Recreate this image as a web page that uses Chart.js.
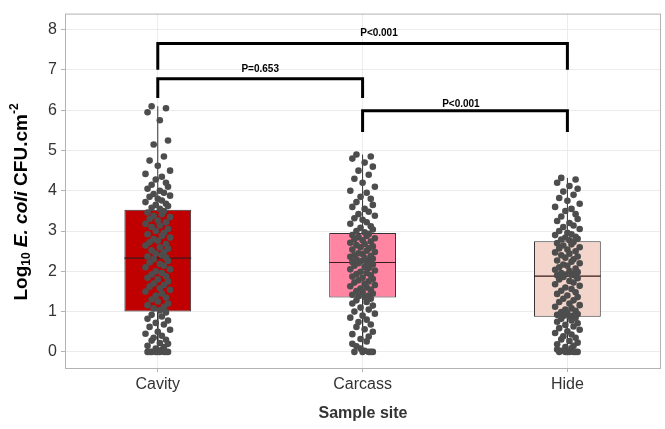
<!DOCTYPE html>
<html>
<head>
<meta charset="utf-8">
<script src="https://cdn.jsdelivr.net/npm/chart.js@4.4.0/dist/chart.umd.min.js"></script>
<style>
    html, body { margin: 0; padding: 0; background: #fff; }
    #wrap { width: 665px; height: 429px; position: relative; }
</style>
</head>
<body>
<div id="wrap"><canvas id="myChart"></canvas></div>
<script>
var categories = ['Cavity', 'Carcass', 'Hide'];
var yTicks = [0, 1, 2, 3, 4, 5, 6, 7, 8];

// box stats (log10 CFU/cm2)
var q1 = [1.0, 1.35, 0.87];
var medians = [2.33, 2.22, 1.88];
var q3 = [3.53, 2.95, 2.75];
var whiskerLow = [0, 0, 0];
var whiskerHigh = [6.1, 4.9, 4.32];

// individual samples
var cavityValues = [
    6.1, 6.05, 5.95, 5.75, 5.25, 5.15, 4.85, 4.75, 4.62, 4.5, 4.42, 4.35, 4.28, 4.2, 4.15, 4.1, 4.05, 4.0, 3.95, 3.92, 3.88, 3.85, 3.8, 3.76, 3.72, 3.68, 3.65, 3.62, 3.58, 3.55,
    3.5, 3.46, 3.42, 3.38, 3.35, 3.3, 3.26, 3.22, 3.18, 3.14, 3.1, 3.05, 3.0, 2.96, 2.92, 2.88, 2.84, 2.8, 2.76, 2.72, 2.68, 2.64, 2.6, 2.56, 2.52, 2.48, 2.44, 2.4, 2.37, 2.34,
    2.3, 2.26, 2.22, 2.18, 2.14, 2.1, 2.05, 2.0, 1.96, 1.92, 1.88, 1.84, 1.8, 1.75, 1.7, 1.66, 1.62, 1.58, 1.54, 1.5, 1.45, 1.4, 1.35, 1.3, 1.25, 1.2, 1.16, 1.12, 1.08, 1.03,
    0.98, 0.92, 0.88, 0.82, 0.78, 0.72, 0.68, 0.62, 0.55, 0.5, 0.45, 0.4, 0.35, 0.3, 0.28, 0.22, 0.2, 0.15, 0.12, 0.08, 0.05, 0, 0, 0, 0, 0, 0, 0, 0, 0
];
var carcassValues = [
    4.9, 4.85, 4.8, 4.7, 4.6, 4.5, 4.4, 4.3, 4.2, 4.1, 4.0, 3.95, 3.85, 3.8, 3.72, 3.65, 3.6, 3.55, 3.48, 3.42, 3.38, 3.32, 3.28, 3.22, 3.18, 3.12, 3.08, 3.04, 3.0, 2.97,
    2.93, 2.9, 2.88, 2.85, 2.82, 2.8, 2.77, 2.74, 2.71, 2.68, 2.65, 2.62, 2.6, 2.57, 2.54, 2.51, 2.48, 2.45, 2.43, 2.4, 2.38, 2.36, 2.33, 2.31, 2.29, 2.27, 2.25, 2.24, 2.23, 2.22,
    2.2, 2.17, 2.14, 2.11, 2.08, 2.05, 2.02, 1.99, 1.96, 1.93, 1.9, 1.87, 1.84, 1.81, 1.78, 1.75, 1.72, 1.69, 1.66, 1.63, 1.6, 1.57, 1.54, 1.51, 1.48, 1.45, 1.42, 1.4, 1.38, 1.36,
    1.32, 1.28, 1.24, 1.2, 1.15, 1.1, 1.05, 1.0, 0.95, 0.9, 0.85, 0.8, 0.74, 0.68, 0.62, 0.56, 0.5, 0.44, 0.38, 0.32, 0.26, 0.2, 0.14, 0.08, 0.03, 0, 0, 0, 0, 0
];
var hideValues = [
    4.32, 4.28, 4.2, 4.12, 4.05, 3.98, 3.9, 3.82, 3.75, 3.68, 3.6, 3.55, 3.5, 3.42, 3.36, 3.3, 3.25, 3.2, 3.14, 3.1, 3.05, 3.0, 2.96, 2.92, 2.9, 2.86, 2.84, 2.81, 2.79, 2.77,
    2.73, 2.7, 2.67, 2.64, 2.6, 2.57, 2.54, 2.5, 2.47, 2.44, 2.4, 2.37, 2.34, 2.3, 2.27, 2.24, 2.2, 2.17, 2.14, 2.1, 2.07, 2.04, 2.01, 1.98, 1.96, 1.94, 1.92, 1.91, 1.9, 1.89,
    1.86, 1.83, 1.8, 1.76, 1.72, 1.68, 1.64, 1.6, 1.56, 1.52, 1.48, 1.44, 1.4, 1.36, 1.32, 1.28, 1.24, 1.2, 1.16, 1.12, 1.08, 1.05, 1.02, 0.99, 0.96, 0.94, 0.92, 0.9, 0.89, 0.88,
    0.85, 0.82, 0.78, 0.75, 0.71, 0.67, 0.63, 0.59, 0.55, 0.51, 0.47, 0.43, 0.39, 0.35, 0.31, 0.27, 0.23, 0.19, 0.15, 0.12, 0.09, 0.06, 0.03, 0, 0, 0, 0, 0, 0, 0
];
// horizontal jitter (category units), same order as the values above
var jitter = [
    -0.03, 0.04, -0.05, 0.01, 0.05, -0.02, 0.03, -0.04, 0.00, 0.06, -0.06, 0.02, -0.01, 0.04, -0.03, 0.05, -0.05, 0.01, 0.03, -0.02, 0.06, -0.04, 0.00, 0.02, -0.06, 0.04, -0.01, 0.05, -0.03, 0.01,
    0.03, -0.05, 0.02, -0.02, 0.06, -0.04, 0.00, 0.04, -0.06, 0.01, -0.03, 0.05, -0.01, 0.03, -0.05, 0.02, 0.06, -0.02, 0.00, -0.04, 0.04, -0.06, 0.01, 0.05, -0.03, 0.03, -0.01, 0.02, -0.05, 0.04,
    -0.02, 0.05, -0.04, 0.01, 0.03, -0.06, 0.06, -0.01, 0.02, -0.03, 0.04, -0.05, 0.00, 0.05, -0.02, 0.03, -0.04, 0.01, 0.06, -0.06, 0.02, -0.01, 0.04, -0.03, 0.00, 0.05, -0.05, 0.03, -0.02, 0.01,
    0.04, -0.03, 0.02, -0.05, 0.05, -0.01, 0.03, -0.04, 0.06, 0.00, -0.06, 0.02, -0.02, 0.04, -0.03, 0.01, 0.05, -0.05, 0.03, -0.01, 0.02, -0.05, -0.03, -0.01, 0.01, 0.03, 0.05, -0.04, 0.00, 0.04
];

// significance brackets
var bracketFrom = [1, 1, 2];
var bracketTo = [3, 2, 3];
var bracketTop = [7.66, 6.78, 5.99];
var bracketFoot = [7.04, 6.34, 5.5];
var bracketText = ['P<0.001', 'P=0.653', 'P<0.001'];
var bracketTextX = [2.08, 1.5, 2.48];
var bracketTextY = [7.9, 7.02, 6.14];

var boxColors = ['#C00000', '#FF85A2', '#F3D5CB'];
var boxWidth = 0.326;

(function () {
    var ctx = document.getElementById('myChart');
    var groups = [cavityValues, carcassValues, hideValues];

    var points = [];
    groups.forEach(function (vals, g) {
        vals.forEach(function (v, i) {
            points.push({ x: g + 1 + jitter[i], y: v });
        });
    });

    var boxes = categories.map(function (c, i) {
        return { x: i + 1, y: [q1[i], q3[i]] };
    });

    var whiskers = [];
    var medianLines = [];
    categories.forEach(function (c, i) {
        whiskers.push({ x: i + 1, y: q3[i] }, { x: i + 1, y: whiskerHigh[i] }, { x: i + 1, y: null });
        whiskers.push({ x: i + 1, y: q1[i] }, { x: i + 1, y: whiskerLow[i] }, { x: i + 1, y: null });
        medianLines.push({ x: i + 1 - boxWidth / 2, y: medians[i] }, { x: i + 1 + boxWidth / 2, y: medians[i] }, { x: i + 1, y: null });
    });

    var brackets = [];
    bracketFrom.forEach(function (f, i) {
        brackets.push({ x: f, y: bracketFoot[i] }, { x: f, y: bracketTop[i] },
            { x: bracketTo[i], y: bracketTop[i] }, { x: bracketTo[i], y: bracketFoot[i] }, { x: f, y: null });
    });

    var labelPlugin = {
        id: 'labels',
        afterDraw: function (chart) {
            var c = chart.ctx;
            var area = chart.chartArea;
            var xs = chart.scales.x, ys = chart.scales.y;
            c.save();
            // panel frame
            c.strokeStyle = '#b3b3b3';
            c.lineWidth = 1;
            c.strokeRect(area.left + 0.5, area.top + 0.5, area.right - area.left - 1, area.bottom - area.top);

            // p-value text
            c.fillStyle = '#000';
            c.font = 'bold 10px "Liberation Sans", Arial, sans-serif';
            c.textAlign = 'center';
            c.textBaseline = 'middle';
            bracketText.forEach(function (t, i) {
                c.fillText(t, xs.getPixelForValue(bracketTextX[i]), ys.getPixelForValue(bracketTextY[i]));
            });

            // x title
            c.fillStyle = '#333';
            c.font = 'bold 16px "Liberation Sans", Arial, sans-serif';
            c.fillText('Sample site', (area.left + area.right) / 2, 414);

            // y title, mixed styles
            var parts = [
                { t: 'Log', f: 'bold 19px', dy: 0 },
                { t: '10', f: 'bold 12px', dy: 5 },
                { t: ' ', f: 'bold 19px', dy: 0 },
                { t: 'E. coli', f: 'italic bold 19px', dy: 0 },
                { t: ' CFU.cm', f: 'bold 19px', dy: 0 },
                { t: '-2', f: 'bold 12px', dy: -7 }
            ];
            var fam = ' "Liberation Sans", Arial, sans-serif';
            var total = 0;
            parts.forEach(function (p) {
                c.font = p.f + fam;
                p.w = c.measureText(p.t).width;
                total += p.w;
            });
            c.translate(22, 202);
            c.rotate(-Math.PI / 2);
            c.textAlign = 'left';
            c.textBaseline = 'middle';
            c.fillStyle = '#000';
            var px = -total / 2;
            parts.forEach(function (p) {
                c.font = p.f + fam;
                c.fillText(p.t, px, p.dy);
                px += p.w;
            });
            c.restore();
        }
    };

    new Chart(ctx, {
        type: 'bar',
        data: {
            datasets: [{
                type: 'scatter',
                data: points,
                backgroundColor: '#4d4d4d',
                borderColor: '#4d4d4d',
                pointRadius: 3.3,
                borderWidth: 0,
                order: 0
            }, {
                type: 'line',
                data: medianLines,
                borderColor: '#3a1a1a',
                borderWidth: 1.2,
                pointRadius: 0,
                spanGaps: false,
                order: 1
            }, {
                type: 'line',
                data: whiskers,
                borderColor: '#333',
                borderWidth: 1,
                pointRadius: 0,
                spanGaps: false,
                order: 2
            }, {
                type: 'line',
                data: brackets,
                borderColor: '#000',
                borderWidth: 3,
                pointRadius: 0,
                spanGaps: false,
                borderCapStyle: 'square',
                order: 3
            }, {
                data: boxes,
                backgroundColor: boxColors,
                borderColor: '#333',
                borderWidth: 1,
                borderSkipped: false,
                categoryPercentage: 1,
                barPercentage: boxWidth,
                order: 4
            }]
        },
        options: {
            responsive: true,
            maintainAspectRatio: false,
            animation: false,
            layout: { padding: { top: 10, right: 2, left: 0, bottom: 0 } },
            plugins: {
                legend: { display: false },
                tooltip: { enabled: false }
            },
            scales: {
                x: {
                    type: 'linear',
                    offset: false,
                    min: 0.547,
                    max: 3.457,
                    afterFit: function (s) { s.height = 61; },
                    afterBuildTicks: function (s) {
                        s.ticks = categories.map(function (c, i) { return { value: i + 1 }; });
                    },
                    ticks: {
                        color: '#333',
                        padding: 3,
                        font: { family: '"Liberation Sans", Arial, sans-serif', size: 16 },
                        callback: function (v) { return categories[v - 1]; }
                    },
                    grid: { offset: false, color: '#ececec', tickColor: '#b3b3b3', tickLength: 4 },
                    border: { display: false }
                },
                y: {
                    type: 'linear',
                    min: -0.4,
                    max: 8.4,
                    afterFit: function (s) { s.width = 65; },
                    afterBuildTicks: function (s) {
                        s.ticks = yTicks.map(function (v) { return { value: v }; });
                    },
                    ticks: {
                        color: '#333',
                        padding: 4,
                        font: { family: '"Liberation Sans", Arial, sans-serif', size: 16 }
                    },
                    grid: { color: '#ececec', tickColor: '#b3b3b3', tickLength: 4 },
                    border: { display: false }
                }
            }
        },
        plugins: [labelPlugin]
    });
})()
</script>
</body>
</html>
